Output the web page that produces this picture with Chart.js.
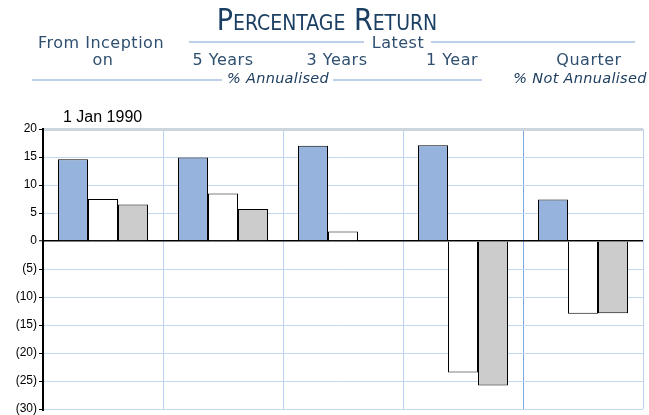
<!DOCTYPE html>
<html>
<head>
<meta charset="utf-8">
<script src="https://cdn.jsdelivr.net/npm/chart.js@4/dist/chart.umd.min.js"></script>
<style>
  html, body { margin: 0; padding: 0; background: #fff; }
  #wrap { position: relative; width: 649px; height: 415px; overflow: hidden; }
  #c { position: absolute; left: 0; top: 0; }
  .t { position: absolute; white-space: nowrap; line-height: 1; color: #2e4f70; font-family: "DejaVu Sans", sans-serif; }
  .hd { font-size: 16px; letter-spacing: 0.5px; transform: translateX(-50%); }
  .it { font-size: 14.5px; font-style: italic; letter-spacing: 0.3px; transform: translateX(-50%); color: #1f3f60; }
  .ln { position: absolute; height: 2px; background: #bcd0ea; }
  #title { font-family: "DejaVu Sans Condensed", "DejaVu Sans", sans-serif; font-variant: small-caps; font-size: 30px; color: #1b3f63; transform: translateX(-50%); }
  #lbl { position: absolute; font-family: "Liberation Sans", Arial, sans-serif; font-size: 16px; line-height: 1; color: #000; white-space: nowrap; }
</style>
</head>
<body>
<div id="wrap">
  <canvas id="c" width="649" height="415"></canvas>
  <div class="t" id="title" style="left:327px; top:5px;">Percentage Return</div>
  <div class="t hd" style="left:101px; top:35px;">From Inception</div>
  <div class="t hd" style="left:103px; top:52px;">on</div>
  <div class="t hd" style="left:398px; top:35px;">Latest</div>
  <div class="ln" style="left:189px; width:175px; top:41px;"></div>
  <div class="ln" style="left:431px; width:204px; top:41px;"></div>
  <div class="t hd" id="h1" style="left:223px; top:52px;"></div>
  <div class="t hd" id="h2" style="left:337px; top:52px;"></div>
  <div class="t hd" id="h3" style="left:452px; top:52px;"></div>
  <div class="t hd" id="h4" style="left:589px; top:52px;"></div>
  <div class="ln" style="left:32px; width:190px; top:79px;"></div>
  <div class="t it" style="left:278px; top:71px;">% Annualised</div>
  <div class="ln" style="left:333px; width:149px; top:79px;"></div>
  <div class="t it" style="left:580px; top:71px;">% Not Annualised</div>
  <div id="lbl" style="left:63px; top:109px;">1 Jan 1990</div>
</div>
<script>
const categories = ['From Inception', '5 Years', '3 Years', '1 Year', 'Quarter'];
const periodHeaders = ['5 Years', '3 Years', '1 Year', 'Quarter'];
const blueSeries = [14.6, 14.9, 17.0, 17.1, 7.4];
const whiteSeries = [7.5, 8.5, 1.7, -23.5, -13.0];
const greySeries = [6.5, 5.7, 0, -25.8, -12.9];
const yTicks = [20, 15, 10, 5, 0, -5, -10, -15, -20, -25, -30];

['h1','h2','h3','h4'].forEach((id, i) => { document.getElementById(id).textContent = periodHeaders[i]; });

const mk = (label, data, bg) => ({
  label, data, backgroundColor: bg, borderColor: '#000', borderWidth: 1,
  borderSkipped: 'start', categoryPercentage: 0.75, barPercentage: 1.0
});

new Chart(document.getElementById('c'), {
  type: 'bar',
  data: {
    labels: categories,
    datasets: [
      mk('Fund', blueSeries, '#95b3dc'),
      mk('Index', whiteSeries, '#ffffff'),
      mk('Sector', greySeries, '#cccccc')
    ]
  },
  options: {
    responsive: false,
    devicePixelRatio: 1,
    animation: false,
    layout: { padding: { top: 129, right: 6, bottom: 6, left: 0 } },
    plugins: { legend: { display: false }, tooltip: { enabled: false } },
    scales: {
      x: {
        grid: {
          offset: true,
          drawTicks: false,
          color: (ctx) => ctx.index === 4 ? '#7ea9e0' : '#bcd3f0',
          lineWidth: 1
        },
        border: { display: false },
        ticks: { display: false },
        afterFit: (s) => { s.height = 0; s.paddingLeft = 0; s.paddingRight = 0; }
      },
      y: {
        min: Math.min(...yTicks),
        max: Math.max(...yTicks),
        afterBuildTicks: (s) => { s.ticks = yTicks.map(v => ({ value: v })); },
        afterFit: (s) => { s.width = 43; s.paddingTop = 0; s.paddingBottom = 0; },
        ticks: {
          padding: 2,
          color: '#000',
          font: { family: '"Liberation Sans", Arial, sans-serif', size: 12 },
          callback: (v) => v < 0 ? '(' + (-v) + ')' : String(v)
        },
        grid: {
          color: (ctx) => ctx.tick && ctx.tick.value === 0 ? '#000' : (ctx.tick && ctx.tick.value === 20 ? '#cdd5df' : '#c3d7f1'),
          lineWidth: (ctx) => ctx.tick && ctx.tick.value === 20 ? 3 : (ctx.tick && ctx.tick.value === 0 ? 1.5 : 1),
          tickColor: '#000',
          tickLength: 4,
          tickWidth: 1
        },
        border: { display: true, color: '#000', width: 2 }
      }
    }
  }
});
</script>
</body>
</html>
